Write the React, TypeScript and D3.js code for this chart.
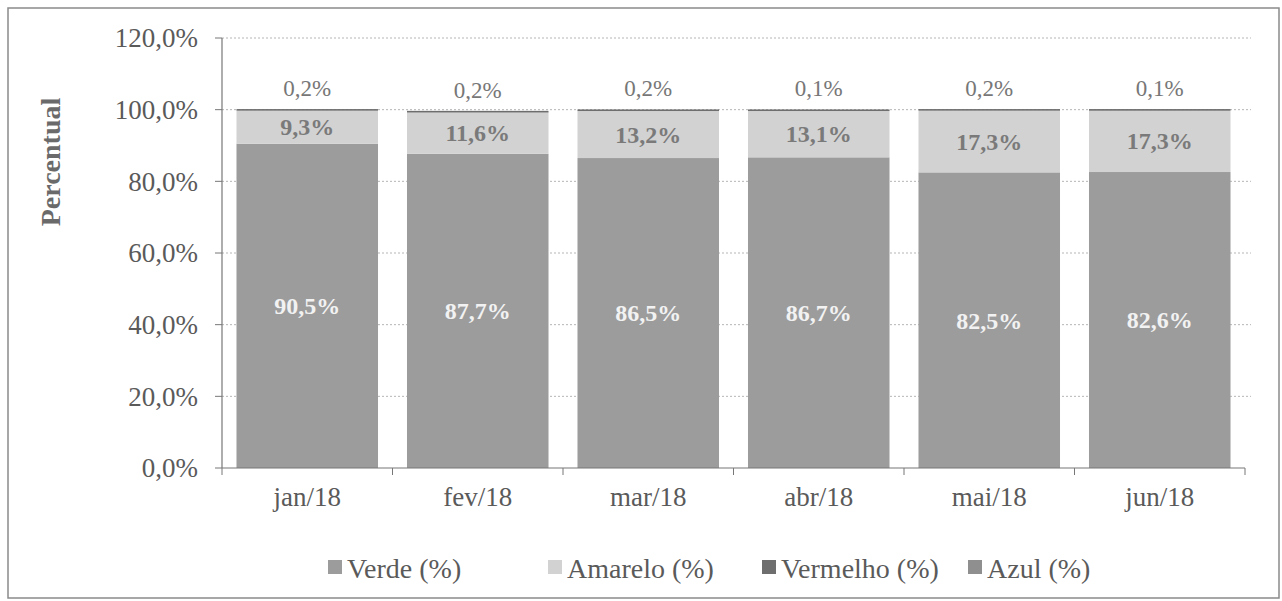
import React from "react";
import * as d3 from "d3";

const months = ["jan/18", "fev/18", "mar/18", "abr/18", "mai/18", "jun/18"];
const verde = [90.5, 87.7, 86.5, 86.7, 82.5, 82.6];
const amarelo = [9.3, 11.6, 13.2, 13.1, 17.3, 17.3];
const vermelho = [0.2, 0.2, 0.2, 0.1, 0.2, 0.1];
const azul = [0, 0, 0, 0, 0, 0];
const yTicks = [0, 20, 40, 60, 80, 100, 120];

const seriesNames = ["Verde (%)", "Amarelo (%)", "Vermelho (%)", "Azul (%)"];
const seriesColors = ["#9c9c9c", "#d2d2d2", "#6e6e6e", "#8f8f8f"];

const font = "'Liberation Serif', 'Times New Roman', serif";
const fmt = (v: number) => v.toFixed(1).replace(".", ",") + "%";

export default function App() {
  const width = 1282;
  const height = 601;
  const margin = { top: 38, right: 37, bottom: 133, left: 222 };

  const x = d3
    .scaleBand()
    .domain(months)
    .range([margin.left, width - margin.right])
    .paddingInner(0.17)
    .paddingOuter(0.085);

  const y = d3
    .scaleLinear()
    .domain([0, 120])
    .range([height - margin.bottom, margin.top]);

  const rows = months.map((m, i) => ({
    month: m,
    verde: verde[i],
    amarelo: amarelo[i],
    vermelho: vermelho[i],
    azul: azul[i],
  }));
  const keys = ["verde", "amarelo", "vermelho", "azul"];
  const stacked = d3.stack<any>().keys(keys)(rows);

  const step = x.step();
  const x0 = margin.left;
  const x1 = width - margin.right;
  const legendX = [328, 548, 762, 968];

  return (
    <svg
      width={width}
      height={height}
      style={{ position: "absolute", left: 0, top: 0, background: "#fff" }}
      fontFamily={font}
    >
      <rect x={0} y={0} width={width} height={height} fill="#fff" />
      {/* outer frame */}
      <rect x={8} y={8} width={1271} height={590} fill="none" stroke="#8a8a8a" strokeWidth={1.5} />

      {/* grid */}
      {yTicks.slice(1).map((t) => (
        <line
          key={t}
          x1={x0}
          x2={x1 + 6}
          y1={y(t)}
          y2={y(t)}
          stroke="#b5b5b5"
          strokeDasharray="2,2"
          strokeWidth={1}
        />
      ))}

      {/* bars */}
      {stacked.map((s, si) => (
        <g key={s.key} fill={seriesColors[si]}>
          {s.map((d, i) => {
            const h = y(d[0]) - y(d[1]);
            if (h <= 0) return null;
            return (
              <rect
                key={i}
                x={x(months[i])}
                y={y(d[1]) - (si === 2 ? 0.6 : 0)}
                width={x.bandwidth()}
                height={si === 2 ? Math.max(h, 1.6) : h}
              />
            );
          })}
        </g>
      ))}

      {/* data labels */}
      {rows.map((r) => {
        const cx = (x(r.month) as number) + x.bandwidth() / 2;
        return (
          <g key={r.month} textAnchor="middle">
            <text
              x={cx}
              y={y(r.verde / 2)}
              dy="0.35em"
              fontSize={24}
              fontWeight="bold"
              fill="#f2f2f2"
            >
              {fmt(r.verde)}
            </text>
            <text
              x={cx}
              y={y(r.verde + r.amarelo / 2)}
              dy="0.35em"
              fontSize={24}
              fontWeight="bold"
              fill="#7a7a7a"
            >
              {fmt(r.amarelo)}
            </text>
            <text
              x={cx}
              y={y(r.verde + r.amarelo + r.vermelho) - 22}
              dy="0.35em"
              fontSize={23}
              fill="#777"
            >
              {fmt(r.vermelho)}
            </text>
          </g>
        );
      })}

      {/* y axis */}
      <line x1={x0} x2={x0} y1={y(120)} y2={y(0)} stroke="#777" strokeWidth={1.2} />
      {yTicks.map((t) => (
        <g key={t}>
          <line x1={x0 - 7} x2={x0} y1={y(t)} y2={y(t)} stroke="#777" />
          <text
            x={x0 - 24}
            y={y(t)}
            dy="0.35em"
            textAnchor="end"
            fontSize={27}
            fill="#5a5a5a"
          >
            {fmt(t)}
          </text>
        </g>
      ))}

      {/* x axis */}
      <line x1={x0} x2={x1} y1={y(0)} y2={y(0)} stroke="#777" strokeWidth={1.2} />
      {d3.range(months.length + 1).map((i) => (
        <line
          key={i}
          x1={x0 + i * step}
          x2={x0 + i * step}
          y1={y(0)}
          y2={y(0) + 7}
          stroke="#777"
        />
      ))}
      {months.map((m) => (
        <text
          key={m}
          x={(x(m) as number) + x.bandwidth() / 2}
          y={y(0) + 38}
          textAnchor="middle"
          fontSize={27}
          fill="#5a5a5a"
        >
          {m}
        </text>
      ))}

      {/* y title */}
      <text
        transform={`translate(60,162) rotate(-90)`}
        textAnchor="middle"
        fontSize={28}
        fontWeight="bold"
        fill="#6a6a6a"
      >
        Percentual
      </text>

      {/* legend */}
      {seriesNames.map((n, i) => (
        <g key={n}>
          <rect x={legendX[i]} y={560} width={14} height={14} fill={seriesColors[i]} />
          <text x={legendX[i] + 19} y={568} dy="0.35em" fontSize={28} fill="#5a5a5a">
            {n}
          </text>
        </g>
      ))}
    </svg>
  );
}
